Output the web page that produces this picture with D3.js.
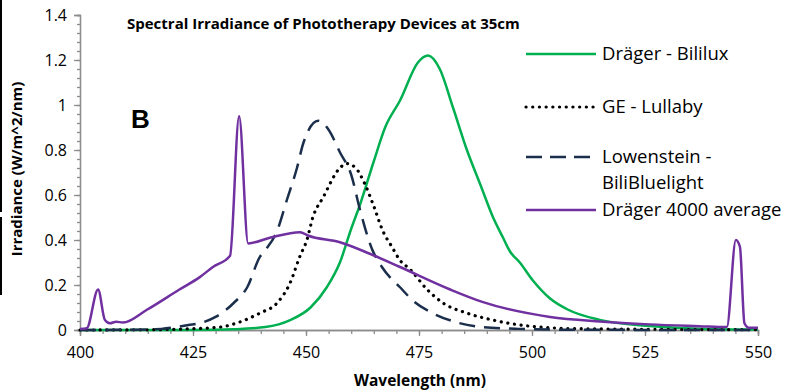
<!DOCTYPE html>
<html>
<head>
<meta charset="utf-8">
<script src="https://cdn.jsdelivr.net/npm/d3@7"></script>
<style>
  body { margin: 0; background: #fff; }
  svg { display: block; font-family: "Open Sans", sans-serif; }
</style>
</head>
<body>
<svg id="chart"></svg>
<script>
// values: [wavelength nm, irradiance W/m^2/nm]
const bililux = [[400,0],[420,0],[430,0.001],[434,0.003],[441,0.013],[446.5,0.044],[451,0.1],[454.6,0.19],[457.5,0.3],[460,0.45],
  [462,0.56],[465,0.75],[467.5,0.9],[470.8,1.02],[474.8,1.19],[477,1.22],[479.6,1.16],[482.5,0.99],[485.6,0.8],[488.5,0.65],
  [491.4,0.5],[493.6,0.41],[495.1,0.35],[497.3,0.3],[500.2,0.22],[504,0.14],[508,0.09],[515,0.045],[526,0.018],[537,0.006],[550,0.002]]
const lullaby = [[400,0],[415,0.001],[425,0.006],[431,0.013],[435.4,0.036],[439.8,0.075],[443.6,0.12],[446.5,0.21],[448.7,0.33],
  [450.2,0.4],[451.5,0.5],[453.8,0.59],[457.5,0.72],[459,0.74],[461,0.72],[463,0.65],[465,0.55],[467,0.44],[469,0.37],
  [470.8,0.31],[473,0.27],[476.8,0.18],[480.3,0.12],[485.6,0.075],[491.4,0.044],[499,0.018],[510,0.006],[550,0.001]]
const biliBluelight = [[400,0],[412,0.001],[418,0.005],[424,0.022],[426.5,0.03],[430,0.058],[434,0.12],[437,0.19],[439.8,0.325],
  [441,0.355],[443.6,0.44],[445.8,0.58],[448,0.72],[449.4,0.83],[452.7,0.93],[455,0.89],[457.5,0.79],[460,0.69],[462,0.53],
  [464.6,0.36],[466.8,0.28],[470.8,0.19],[473.7,0.13],[478,0.075],[483,0.036],[489,0.013],[497,0.005],[510,0.001],[550,0]]
const drager4000 = [[400,0.005],[401.5,0.008],[404,0.18],[405.5,0.045],[406.6,0.03],[408,0.037],[409.5,0.033],[414.8,0.09],
  [422,0.18],[426.5,0.235],[429.4,0.28],[433.2,0.33],[435.2,0.95],[437.2,0.385],[442,0.41],[448.7,0.435],[450.4,0.42],
  [457.5,0.39],[464,0.34],[470.8,0.28],[481.9,0.18],[489,0.125],[504,0.058],[515,0.038],[526,0.025],[537,0.017],[543.1,0.013],
  [545.1,0.4],[546,0.37],[547,0.03],[548,0.01],[550,0.01]]

const xTicks = [400, 425, 450, 475, 500, 525, 550]
const yTicks = [0, 0.2, 0.4, 0.6, 0.8, 1, 1.2, 1.4]

const series = [
  {name: ['Dräger - Bililux'], data: bililux, color: '#00b050', dash: null, width: 2.5},
  {name: ['GE - Lullaby'], data: lullaby, color: '#000', dash: '0.1 6.6', width: 3.2, cap: 'round'},
  {name: ['Lowenstein -', 'BiliBluelight'], data: biliBluelight, color: '#1b2f4c', dash: '16 9', width: 2.5},
  {name: ['Dräger 4000 average'], data: drager4000, color: '#7030a0', dash: null, width: 2.5}
]

let width = 792
let height = 390
let svg = d3.select('#chart').attr('width', width).attr('height', height)

let xScale = d3.scaleLinear().domain([400, 550]).range([80, 758])
let yScale = d3.scaleLinear().domain([0, 1.4]).range([330, 15])

// stray black edges from the cropped original
svg.append('rect').attr('x', 0).attr('y', 0).attr('width', 2).attr('height', 212).attr('fill', '#000')
svg.append('rect').attr('x', 0).attr('y', 217).attr('width', 2).attr('height', 78).attr('fill', '#000')

// minor ticks first
svg.append('g')
   .attr('transform', 'translate(0,' + yScale(0) + ')')
   .call(d3.axisBottom(xScale).tickValues(d3.range(400, 551, 5)).tickSize(4).tickFormat(''))
svg.append('g')
   .attr('transform', 'translate(' + xScale(400) + ',0)')
   .call(d3.axisLeft(yScale).tickValues(d3.range(0, 1.401, 0.04)).tickSize(3).tickFormat(''))

let xAxis = svg.append('g')
   .attr('transform', 'translate(0,' + yScale(0) + ')')
   .call(d3.axisBottom(xScale).tickValues(xTicks).tickSize(6).tickPadding(11))
let yAxis = svg.append('g')
   .attr('transform', 'translate(' + xScale(400) + ',0)')
   .call(d3.axisLeft(yScale).tickValues(yTicks).tickSize(6).tickPadding(7).tickFormat(d => d3.format('~g')(d)))

svg.selectAll('.domain, .tick line').attr('stroke', '#8c8c8c').attr('stroke-width', 1.3)
svg.selectAll('.tick text').attr('font-family', '"Open Sans", sans-serif').attr('font-size', 16).attr('fill', '#000')

let line = d3.line()
  .x(d => xScale(d[0]))
  .y(d => yScale(d[1]))
  .curve(d3.curveMonotoneX)

series.forEach(s => {
  svg.append('path')
     .datum(s.data)
     .attr('d', line)
     .attr('fill', 'none')
     .attr('stroke', s.color)
     .attr('stroke-width', s.width)
     .attr('stroke-dasharray', s.dash)
     .attr('stroke-linecap', s.cap || 'butt')
     .attr('stroke-linejoin', 'round')
})

// legend
let legendY = [54, 107, 157, 210]
series.forEach((s, i) => {
  let g = svg.append('g').attr('transform', 'translate(526,' + legendY[i] + ')')
  g.append('line').attr('x1', 0).attr('x2', 70).attr('y1', 0).attr('y2', 0)
   .attr('stroke', s.color).attr('stroke-width', s.width)
   .attr('stroke-dasharray', s.dash === '16 9' ? '16 8' : s.dash)
   .attr('stroke-linecap', s.cap || 'butt')
  s.name.forEach((t, j) => {
    g.append('text').attr('x', 76).attr('y', j * 26).attr('dy', '0.35em')
     .attr('font-size', 18.5).text(t)
  })
})

svg.append('text').attr('x', 127).attr('y', 29)
   .attr('font-size', 15).attr('font-weight', 'bold').text('Spectral Irradiance of Phototherapy Devices at 35cm')

svg.append('text').attr('x', 131).attr('y', 128)
   .attr('font-family', '"Liberation Sans", Arial, sans-serif')
   .attr('font-size', 26).attr('font-weight', 'bold').text('B')

svg.append('text').attr('x', 420).attr('y', 386).attr('text-anchor', 'middle')
   .attr('font-size', 15.5).attr('font-weight', 'bold').text('Wavelength (nm)')

svg.append('text').attr('transform', 'translate(22,169) rotate(-90)').attr('text-anchor', 'middle')
   .attr('font-size', 15).attr('font-weight', 'bold').text('Irradiance (W/m^2/nm)')
</script>
</body>
</html>
